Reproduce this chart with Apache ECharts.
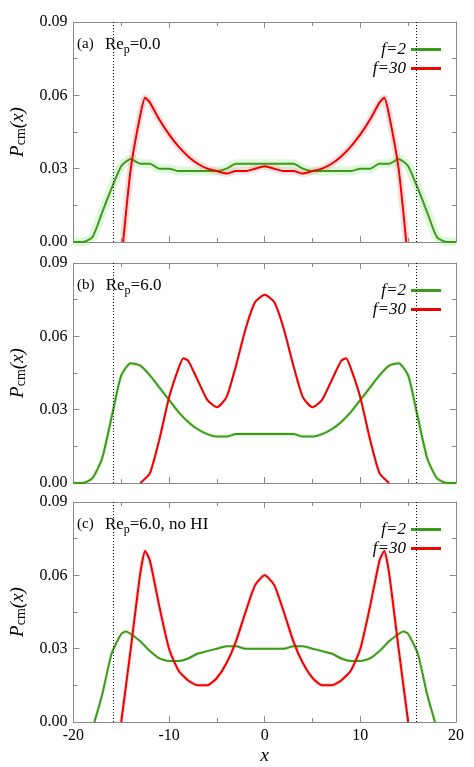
<!DOCTYPE html>
<html>
<head>
<meta charset="utf-8">
<script src="https://cdn.jsdelivr.net/npm/echarts@6/dist/echarts.min.js"></script>
<style>html,body{margin:0;padding:0;background:#fff}#main{width:474px;height:767px}</style>
</head>
<body>
<div id="main"></div>
<script>
// x positions
var xInt = [-20,-19,-18,-17,-16,-15,-14,-13,-12,-11,-10,-9,-8,-7,-6,-5,-4,-3,-2,-1,0,1,2,3,4,5,6,7,8,9,10,11,12,13,14,15,16,17,18,19,20];
// (a) Re_p = 0.0
var aGreenY = [0,0,0.002,0.012,0.022,0.031,0.034,0.032,0.032,0.030,0.030,0.029,0.029,0.029,0.029,0.029,0.030,0.032,0.032,0.032,0.032,
               0.032,0.032,0.032,0.030,0.029,0.029,0.029,0.029,0.029,0.030,0.030,0.032,0.032,0.034,0.031,0.022,0.012,0.002,0,0];
var aRedX = [-14.8,-14,-13,-12.5,-12,-11,-10,-9,-8,-7,-6,-5,-4,-3,-2,-1,0,1,2,3,4,5,6,7,8,9,10,11,12,12.5,13,14,14.8];
var aRedY = [0,0.030,0.052,0.059,0.057,0.050,0.044,0.039,0.035,0.032,0.030,0.029,0.028,0.029,0.029,0.030,0.031,
             0.030,0.029,0.029,0.028,0.029,0.030,0.032,0.035,0.039,0.044,0.050,0.057,0.059,0.052,0.030,0];
// (b) Re_p = 6.0
var bGreenY = [0,0,0.002,0.010,0.027,0.044,0.049,0.048,0.044,0.039,0.034,0.029,0.025,0.022,0.020,0.019,0.019,0.020,0.020,0.020,0.020,
               0.020,0.020,0.020,0.019,0.019,0.020,0.022,0.025,0.029,0.034,0.039,0.044,0.048,0.049,0.044,0.027,0.010,0.002,0,0];
var bRedX = [-13,-12,-11,-10,-9,-8.5,-8,-7,-6,-5,-4,-3,-2,-1,0,1,2,3,4,5,6,7,8,8.5,9,10,11,12,13];
var bRedY = [0,0.004,0.018,0.035,0.047,0.051,0.050,0.042,0.034,0.031,0.035,0.048,0.063,0.074,0.077,
             0.074,0.063,0.048,0.035,0.031,0.034,0.042,0.050,0.051,0.047,0.035,0.018,0.004,0];
// (c) Re_p = 6.0, no HI
var cGreenX = [-17.8,-17,-16,-15,-14.5,-14,-13,-12,-11,-10,-9,-8,-7,-6,-5,-4,-3,-2,-1,0,1,2,3,4,5,6,7,8,9,10,11,12,13,14,14.5,15,16,17,17.8];
var cGreenY = [0,0.011,0.028,0.036,0.037,0.036,0.033,0.029,0.026,0.025,0.025,0.026,0.028,0.029,0.030,0.031,0.031,0.030,0.030,0.030,
               0.030,0.030,0.031,0.031,0.030,0.029,0.028,0.026,0.025,0.025,0.026,0.029,0.033,0.036,0.037,0.036,0.028,0.011,0];
var cRedX = [-15,-14,-13,-12.5,-12,-11,-10,-9,-8,-7,-6,-5,-4,-3,-2,-1,0,1,2,3,4,5,6,7,8,9,10,11,12,12.5,13,14,15];
var cRedY = [0,0.030,0.061,0.070,0.066,0.047,0.030,0.021,0.017,0.015,0.015,0.018,0.024,0.033,0.045,0.056,0.060,
             0.056,0.045,0.033,0.024,0.018,0.015,0.015,0.017,0.021,0.030,0.047,0.066,0.070,0.061,0.030,0];
var yTicks = ['0.00','0.03','0.06','0.09'];
var wallX = 15.8;
var panelText = ['(a)   {t|Re}{s|p}{t|=0.0}', '(b)   {t|Re}{s|p}{t|=6.0}', '(c)   {t|Re}{s|p}{t|=6.0, no HI}'];

function pairs(xs, ys) {
	var out = [];
	for (var i = 0; i < xs.length; i++) out.push([xs[i], ys[i]]);
	return out;
}

var font = 'Liberation Serif';
var tops = [22, 263, 502];
var green = '#3f9a1b', red = '#f00000';
var data = [
	[pairs(xInt, aGreenY), pairs(aRedX, aRedY)],
	[pairs(xInt, bGreenY), pairs(bRedX, bRedY)],
	[pairs(cGreenX, cGreenY), pairs(cRedX, cRedY)]
];
var bands = [[9, 7], [4, 3], [3, 4]];
var lineIcon = 'path://M0,0 L30,0 L30,3 L0,3 Z';
var axCol = '#888';

var grid = [], xAxis = [], yAxis = [], series = [], legend = [], graphic = [];
for (var p = 0; p < 3; p++) {
	grid.push({left: 69, right: 18, top: tops[p], height: 220});
	var last = p === 2;
	var tick = {inside: true, length: 6, lineStyle: {color: axCol}};
	var minor = {show: true, splitNumber: 2, length: 4, lineStyle: {color: axCol}};
	// bottom x
	xAxis.push({type: 'value', gridIndex: p, min: -20, max: 20, interval: 10,
		axisLine: {onZero: false, lineStyle: {color: axCol}}, axisTick: tick, minorTick: minor,
		splitLine: {show: false},
		axisLabel: {show: last, color: '#000', fontFamily: font, fontSize: 16, margin: 6},
		name: last ? 'x' : '', nameLocation: 'middle', nameGap: 24,
		nameTextStyle: {fontFamily: font, fontSize: 19, fontStyle: 'italic', color: '#000'}});
	// top mirror
	xAxis.push({type: 'value', gridIndex: p, position: 'top', min: -20, max: 20, interval: 10,
		axisLine: {show: true, onZero: false, lineStyle: {color: axCol}}, axisTick: tick, minorTick: minor,
		splitLine: {show: false}, axisLabel: {show: false}});
	yAxis.push({type: 'value', gridIndex: p, min: 0, max: 0.09, interval: 0.03,
		axisLine: {show: true, onZero: false, lineStyle: {color: axCol}}, axisTick: tick, minorTick: minor,
		splitLine: {show: false},
		axisLabel: {color: '#000', fontFamily: font, fontSize: 16, margin: 6,
			formatter: function(v) { return yTicks[Math.round(v / 0.03)]; }},
		name: '{i|P}{s|cm}{i|(x)}', nameLocation: 'middle', nameGap: 42, nameRotate: 90,
		nameTextStyle: {rich: {
			i: {fontFamily: font, fontSize: 19, fontStyle: 'italic', color: '#000'},
			s: {fontFamily: font, fontSize: 14, color: '#000', verticalAlign: 'bottom', padding: [8, 0, 0, 0]}}}});
	yAxis.push({type: 'value', gridIndex: p, position: 'right', min: 0, max: 0.09, interval: 0.03,
		axisLine: {show: true, onZero: false, lineStyle: {color: axCol}}, axisTick: tick, minorTick: minor,
		splitLine: {show: false}, axisLabel: {show: false}});

	var g = data[p][0], r = data[p][1];
	// shaded error bands
	series.push({type: 'line', xAxisIndex: 2 * p, yAxisIndex: 2 * p, data: g, smooth: 0.2, showSymbol: false, silent: true,
		lineStyle: {color: 'rgba(110,220,90,0.22)', width: bands[p][0]}, z: 1});
	series.push({type: 'line', xAxisIndex: 2 * p, yAxisIndex: 2 * p, data: r, smooth: 0.2, showSymbol: false, silent: true,
		lineStyle: {color: 'rgba(240,110,110,0.22)', width: bands[p][1]}, z: 1});
	series.push({name: 'f=2', type: 'line', xAxisIndex: 2 * p, yAxisIndex: 2 * p, data: g, smooth: 0.2, showSymbol: false,
		lineStyle: {color: green, width: 2}, itemStyle: {color: green}, z: 3,
		markLine: {silent: true, symbol: 'none', label: {show: false},
			lineStyle: {color: '#000', type: [1, 2], width: 1},
			data: [{xAxis: -wallX}, {xAxis: wallX}]}});
	series.push({name: 'f=30', type: 'line', xAxisIndex: 2 * p, yAxisIndex: 2 * p, data: r, smooth: 0.2, showSymbol: false,
		lineStyle: {color: red, width: 2}, itemStyle: {color: red}, z: 4});

	legend.push({top: tops[p] + 14, right: 28, orient: 'vertical', align: 'right', itemGap: 2,
		itemWidth: 30, itemHeight: 3, icon: lineIcon, data: ['f=2', 'f=30'],
		textStyle: {fontFamily: font, fontStyle: 'italic', fontSize: 17, color: '#000'}});
	graphic.push({type: 'text', left: 77, top: tops[p] + 14, style: {
		text: panelText[p], fontFamily: font, fontSize: 15, fill: '#000',
		rich: {t: {fontFamily: font, fontSize: 17, fill: '#000'}, s: {fontFamily: font, fontSize: 12, verticalAlign: 'bottom', padding: [10, 0, 0, 0]}}}});
}

var chart = echarts.init(document.getElementById('main'));
chart.setOption({
	animation: false,
	backgroundColor: '#fff',
	grid: grid, xAxis: xAxis, yAxis: yAxis, series: series, legend: legend, graphic: graphic
});
</script>
</body>
</html>
